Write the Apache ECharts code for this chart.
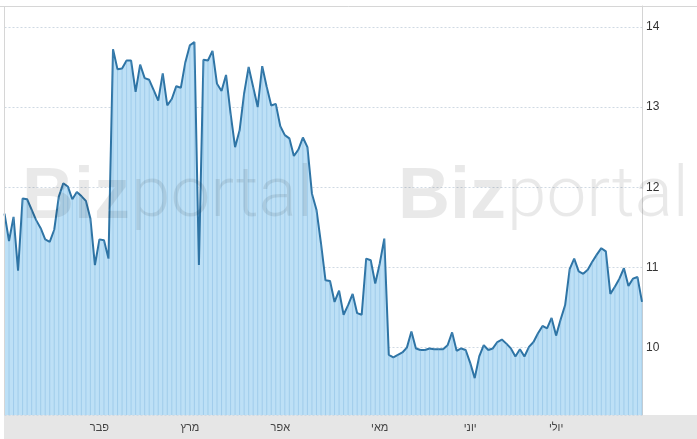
<!DOCTYPE html>
<html>
<head>
<meta charset="utf-8">
<script src="https://cdn.jsdelivr.net/npm/echarts@6/dist/echarts.min.js"></script>
<style>
html,body{margin:0;padding:0;background:#fff;}
#c{width:697px;height:439px;}
</style>
</head>
<body>
<div id="c"></div>
<script>
// daily closing values
const prices = [
  11.67, 11.33, 11.63, 10.96, 11.86, 11.85, 11.72, 11.59, 11.49, 11.35,
  11.32, 11.47, 11.88, 12.05, 12.01, 11.85, 11.94, 11.89, 11.83, 11.61,
  11.03, 11.35, 11.34, 11.11, 13.72, 13.47, 13.48, 13.58, 13.58, 13.19,
  13.53, 13.36, 13.34, 13.21, 13.08, 13.42, 13.02, 13.10, 13.26, 13.24,
  13.56, 13.77, 13.81, 11.03, 13.59, 13.58, 13.70, 13.29, 13.20, 13.40,
  12.92, 12.50, 12.71, 13.17, 13.50, 13.25, 13.00, 13.51, 13.25, 13.02,
  13.04, 12.76, 12.65, 12.61, 12.39, 12.47, 12.62, 12.50, 11.92, 11.72,
  11.30, 10.84, 10.83, 10.57, 10.71, 10.41, 10.53, 10.67, 10.43, 10.41,
  11.11, 11.09, 10.80, 11.05, 11.36, 9.91, 9.88, 9.91, 9.94, 10.00,
  10.20, 9.99, 9.97, 9.97, 9.99, 9.98, 9.98, 9.98, 10.03, 10.19,
  9.96, 9.99, 9.97, 9.81, 9.62, 9.89, 10.03, 9.97, 9.99, 10.07,
  10.10, 10.05, 9.99, 9.89, 9.98, 9.89, 10.01, 10.07, 10.18, 10.27,
  10.24, 10.37, 10.15, 10.35, 10.53, 10.98, 11.11, 10.95, 10.92, 10.97,
  11.07, 11.16, 11.24, 11.20, 10.67, 10.76, 10.86, 10.99, 10.77, 10.86,
  10.88, 10.57
];
// month tick labels and the trading-day index where each appears
const monthLabels = ['פבר', 'מרץ', 'אפר', 'מאי', 'יוני', 'יולי'];
const monthStartIdx = [21, 41, 61, 83, 103, 122];
const yTicks = [10, 11, 12, 13, 14];

const categories = prices.map(function (_, i) {
  const k = monthStartIdx.indexOf(i);
  return k >= 0 ? monthLabels[k] : '';
});

const chart = echarts.init(document.getElementById('c'), null, {renderer: 'canvas'});

function wm(x, y, bold, text) {
  return {
    type: 'text', x: x, y: y, z: 100, silent: true,
    style: {
      text: text,
      font: bold ? 'bold 72px "Liberation Sans", Arial, sans-serif'
                 : '300 71px Roboto, "Liberation Sans", Arial, sans-serif',
      fill: 'rgba(0,0,0,0.085)',
      verticalAlign: 'middle', align: 'left'
    }
  };
}

chart.setOption({
  animation: false,
  grid: {left: 4.5, right: 55, top: 6, bottom: 24, containLabel: false},
  xAxis: {
    type: 'category',
    data: categories,
    boundaryGap: false,
    axisLine: {show: false},
    axisTick: {show: false},
    splitLine: {show: false},
    axisLabel: {
      interval: function (i, v) { return v !== ''; },
      color: '#444',
      fontSize: 11,
      fontFamily: '"Liberation Sans", Arial, sans-serif',
      margin: 7
    }
  },
  yAxis: {
    type: 'value',
    position: 'right',
    min: 9.16,
    max: 14.26,
    scale: true,
    axisLine: {show: true, lineStyle: {color: '#d4d4d4', width: 1}},
    axisTick: {show: false},
    axisLabel: {
      color: '#333',
      fontSize: 12,
      fontFamily: '"Liberation Sans", Arial, sans-serif',
      margin: 4,
      showMinLabel: false,
      showMaxLabel: false,
      formatter: function (v) {
        return yTicks.indexOf(Math.round(v * 100) / 100) >= 0 ? String(v) : '';
      }
    },
    splitLine: {show: true, lineStyle: {color: '#cfd9e3', type: [2, 2], width: 1}}
  },
  graphic: [
    {type: 'rect', z: -1, silent: true, shape: {x: 4, y: 415, width: 693, height: 24}, style: {fill: '#e6e6e6'}},
    {type: 'line', z: 50, silent: true, shape: {x1: 0, y1: 6.5, x2: 697, y2: 6.5}, style: {stroke: '#d6d6d6', lineWidth: 1}},
    {type: 'line', z: 50, silent: true, shape: {x1: 4.5, y1: 6, x2: 4.5, y2: 415}, style: {stroke: '#d6d6d6', lineWidth: 1}},
    wm(22, 198, true, 'Biz'),
    wm(131, 198, false, 'portal'),
    wm(398, 198, true, 'Biz'),
    wm(507, 198, false, 'portal')
  ],
  series: [
    {
      type: 'bar',
      data: prices,
      barWidth: 1,
      itemStyle: {color: 'rgba(110,170,215,0.35)'},
      z: 3,
      silent: true
    },
    {
      type: 'line',
      data: prices,
      smooth: false,
      symbol: 'none',
      lineStyle: {color: '#2e74a5', width: 2},
      areaStyle: {color: '#bde0f6', opacity: 1},
      z: 2,
      silent: true
    }
  ]
});
</script>
</body>
</html>
